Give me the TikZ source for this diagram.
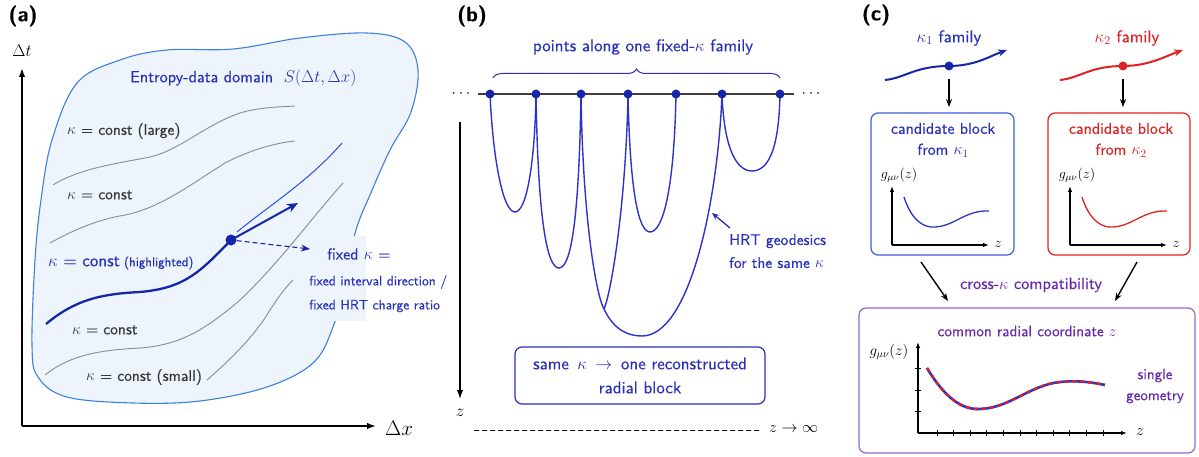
\RequirePackage{fix-cm}
\documentclass[tikz,border=0pt]{standalone}
\usepackage{fontspec}
\setsansfont{lmsans10-regular.otf}[BoldFont=lmsans10-bold.otf, FakeBold=0.35]
\usetikzlibrary{arrows.meta,decorations.pathreplacing}
\definecolor{tblue}{RGB}{40,48,185}
\definecolor{hblue}{RGB}{22,38,170}
\definecolor{gblue}{RGB}{42,52,200}
\definecolor{bline}{RGB}{62,128,218}
\definecolor{bfill}{RGB}{237,244,252}
\definecolor{cblue}{RGB}{64,92,222}
\definecolor{cred}{RGB}{222,34,34}
\definecolor{ptxt}{RGB}{102,40,172}
\definecolor{pline}{RGB}{150,100,210}
\definecolor{gline}{RGB}{140,140,140}
\definecolor{gtxt}{RGB}{55,55,55}
\tikzset{
  fs/.style 2 args={font=\sffamily\fontsize{#1}{#2}\selectfont},
  txt/.style={inner sep=0pt},
  panel/.style={inner sep=0pt, font=\sffamily\bfseries\fontsize{21}{25}\selectfont},
  axis/.style={line width=1.6pt, -{Latex[length=9pt,width=6.5pt]}},
  smallaxis/.style={line width=1.2pt, -{Latex[length=6pt,width=4.5pt]}},
  grayc/.style={gline, line width=0.9pt},
  geo/.style={gblue, line width=1.4pt},
  dotb/.style={circle, fill=hblue, inner sep=0pt, minimum size=#1},
  dotr/.style={circle, fill=cred, inner sep=0pt, minimum size=#1},
  blackarr/.style={line width=1.4pt, -{Stealth[length=8pt,width=6pt]}},
  rbox/.style={draw, rounded corners=7pt, line width=1.2pt, inner sep=0pt},
}
\begin{document}
\begin{tikzpicture}[x=1pt,y=-1pt]
\useasboundingbox (0,0) rectangle (1199,457);
% ---------------- panel (a) ----------------
\node[panel] (pa) at (23,16) {(a)};
\path[fill=bfill, draw=bline, line width=1.1pt] plot[smooth cycle, tension=0.6] coordinates {
 (77,83) (120,60) (167,50) (233,49) (300,38) (367,33) (405,42) (418,70)
 (411,112) (390,150) (370,195) (356,230) (345,280) (333,327) (313,363)
 (267,387) (200,401) (133,403) (67,397) (38,377) (32,345) (35,260)
 (41,200) (52,140)};
\fill[bfill] (332,236) rectangle (366,321);
\coordinate (O) at (22,426);
\coordinate (tTop) at (22,68);
\coordinate (xEnd) at (376,426);
\draw[axis] (O) -- (tTop);
\draw[axis] (O) -- (xEnd);
\node[txt, font=\fontsize{17}{20}\selectfont] (dtl) at (22,51) {$\Delta t$};
\node[txt, font=\fontsize{21}{24}\selectfont] (dxl) at (399,428) {$\Delta x$};
\node[txt, fs={16.2}{20}, tblue, anchor=west] (ttl) at (130,78) {Entropy-data domain\ \ {\fontsize{17}{20}\selectfont$S(\Delta t,\Delta x)$}};
% gray curves
\draw[grayc] (53,185) .. controls (80,168) and (120,163) .. (150,157) .. controls (180,150) and (205,125) .. (240,113) .. controls (260,107) and (280,107) .. (295,106);
\draw[grayc] (50,243) .. controls (70,232) and (95,220) .. (125,215) .. controls (160,208) and (190,185) .. (225,163) .. controls (250,150) and (275,143) .. (295,141);
\draw[grayc] (45,375) .. controls (70,355) and (100,350) .. (140,348) .. controls (180,345) and (205,330) .. (240,300) .. controls (280,262) and (310,220) .. (343,183);
\draw[grayc] (207,380) .. controls (230,360) and (250,340) .. (265,318) .. controls (275,302) and (283,290) .. (293,280);
% text block on the right of the blob
\node[txt, fs={16}{20}, tblue, anchor=west] (f1) at (327,254) {fixed $\kappa$ =};
\node[txt, fs={13.6}{17}, tblue, anchor=west] (f2) at (309,282) {fixed interval direction /};
\node[txt, fs={13.6}{17}, tblue, anchor=west] (f3) at (309,306) {fixed HRT charge ratio};
% highlighted
\node[dotb=11pt] (hd) at (231,240) {};
\draw[bline!60!blue, line width=1pt] (237,232) .. controls (270,205) and (310,180) .. (342,143);
\draw[hblue, line width=2.3pt] (46,324) .. controls (75,300) and (100,294) .. (140,292) .. controls (185,288) and (200,272) .. (hd.center);
\coordinate (hArr) at (298,203);
\coordinate (dArr) at (310,249);
\draw[hblue, line width=2pt, -{Stealth[length=11pt,width=9pt]}] (hd.center) -- (hArr);
\draw[hblue, line width=1.1pt, dash pattern=on 5pt off 3pt, -{Stealth[length=9pt,width=7pt]}] (hd) -- (dArr);
% labels
\node[txt, fs={15.5}{19}, gtxt, anchor=west] (l1) at (67,131) {$\kappa$ = const (large)};
\node[txt, fs={15.5}{19}, gtxt, anchor=west] (l2) at (67,195) {$\kappa$ = const};
\node[txt, fs={17}{20}, tblue, anchor=west] (l3) at (48,263) {$\kappa$ = const{\fontsize{12.9}{15}\selectfont\ (highlighted)}};
\node[txt, fs={15.5}{19}, gtxt, anchor=west] (l4) at (72,330) {$\kappa$ = const};
\node[txt, fs={15.5}{19}, gtxt, anchor=west] (l5) at (86,377) {$\kappa$ = const (small)};
% ---------------- panel (b) ----------------
\node[panel] (pb) at (472,16) {(b)};
\coordinate (hl) at (478,94);
\coordinate (hr) at (794,94);
\draw[line width=1.2pt, black!75] (hl) -- (hr);
\node[txt, font=\fontsize{16}{19}\selectfont] (dl) at (461,94) {$\cdots$};
\node[txt, font=\fontsize{16}{19}\selectfont] (dr) at (811,94) {$\cdots$};
\coordinate (bl) at (493,78);
\coordinate (br) at (780,78);
\draw[tblue, line width=1pt, decorate, decoration={brace, amplitude=9pt}] (bl) -- (br);
\node[txt, fs={17}{20}, tblue] (bt) at (643,47) {points along one fixed-$\kappa$\ family};
% geodesics
\draw[geo] (490,94) .. controls (493,160) and (503,212) .. (515,212) .. controls (527,212) and (535,160) .. (536,94);
\draw[geo] (536,94) .. controls (538,220) and (547,268) .. (559,268) .. controls (571,268) and (579,220) .. (581,94);
\draw[geo] (581,94) .. controls (583,230) and (598,300) .. (604,309);
\draw[geo] (604,309) .. controls (612,290) and (626,200) .. (628,94);
\draw[geo] (604,309) .. controls (614,330) and (628,336) .. (642,336) .. controls (690,336) and (718,200) .. (722,94);
\draw[geo] (628,94) .. controls (630,195) and (639,232) .. (650,232) .. controls (662,232) and (674,195) .. (676,94);
\draw[geo] (722,94) .. controls (724,150) and (737,171) .. (752,171) .. controls (768,171) and (779,150) .. (780,94);
\foreach \x/\n in {490/1,536/2,581/3,628/4,676/5,722/6,780/7}
  \node[dotb=9pt] (p\n) at (\x,94) {};
\coordinate (ha) at (730,228);
\coordinate (hb) at (712,213);
\draw[tblue, line width=1.3pt, -{Stealth[length=7pt,width=6pt]}] (ha) -- (hb);
\node[txt, fs={15.5}{23}, tblue, anchor=north west, align=left] (hrt) at (729,234) {HRT geodesics\\for the same $\kappa$};
\coordinate (zt) at (460,122);
\coordinate (zb) at (460,399);
\draw[axis, line width=1.4pt] (zt) -- (zb);
\node[txt, font=\fontsize{17}{20}\selectfont] (zl) at (460,413) {$z$};
\coordinate (dsl) at (474,430);
\coordinate (dsr) at (761,430);
\draw[line width=1pt, dash pattern=on 5pt off 3pt] (dsl) -- (dsr);
\node[txt, font=\fontsize{16}{19}\selectfont, anchor=west] (zinf) at (769,429) {$z \rightarrow \infty$};
\node[rbox, draw=gblue, minimum width=250pt, minimum height=57pt, fs={17}{24}, tblue, align=center] (blk) at (640,375.5) {same \,$\kappa$\, $\rightarrow$\, one reconstructed\\radial block};
% ---------------- panel (c) ----------------
\node[panel] (pc) at (876,15) {(c)};
\node[txt, fs={17}{20}, tblue] (k1) at (949,38) {$\kappa_1$\ family};
\node[txt, fs={17}{20}, cred] (k2) at (1127,38) {$\kappa_2$\ family};
\node[dotb=9pt] (d1) at (949,66) {};
\node[dotr=9pt] (d2) at (1123,66) {};
\coordinate (c1s) at (885,80);
\coordinate (c1e) at (1007,50);
\coordinate (c2s) at (1060,80);
\coordinate (c2e) at (1183,50);
\draw[hblue, line width=2pt] (c1s) .. controls (905,78) and (915,66) .. (d1.center);
\draw[hblue, line width=2pt, -{Stealth[length=9pt,width=7pt]}] (d1.center) .. controls (975,66) and (990,56) .. (c1e);
\draw[cred, line width=2pt] (c2s) .. controls (1080,78) and (1090,66) .. (d2.center);
\draw[cred, line width=2pt, -{Stealth[length=9pt,width=7pt]}] (d2.center) .. controls (1149,66) and (1166,56) .. (c2e);
\node[rbox, draw=cblue, minimum width=143pt, minimum height=142pt] (bx1) at (942.5,184) {};
\node[rbox, draw=cred, minimum width=142pt, minimum height=142pt] (bx2) at (1119,184) {};
\coordinate (v1s) at (949,79);
\coordinate (v1e) at (949,107);
\coordinate (v2s) at (1123,79);
\coordinate (v2e) at (1123,107);
\draw[blackarr] (v1s) -- (v1e);
\draw[blackarr] (v2s) -- (v2e);
\node[txt, fs={15.9}{21}, tblue, align=center] (bt1) at (943,140) {candidate block\\from $\kappa_1$};
\node[txt, fs={15.9}{21}, cred, align=center] (bt2) at (1121,140) {candidate block\\from $\kappa_2$};
% mini plots
\coordinate (o1) at (892,245);
\coordinate (o1y) at (892,186);
\coordinate (o1x) at (989,245);
\draw[smallaxis] (o1) -- (o1y);
\draw[smallaxis] (o1) -- (o1x);
\node[txt, font=\fontsize{14}{17}\selectfont] (g1) at (899,175) {$g_{\mu\nu}(z)$};
\node[txt, font=\fontsize{14}{17}\selectfont] (z1) at (998,244) {$z$};
\draw[gblue, line width=1.3pt] (904,197) .. controls (912,222) and (925,228) .. (935,227) .. controls (955,226) and (965,210) .. (989,211);
\coordinate (o2) at (1070,245);
\coordinate (o2y) at (1070,186);
\coordinate (o2x) at (1167,245);
\draw[smallaxis] (o2) -- (o2y);
\draw[smallaxis] (o2) -- (o2x);
\node[txt, font=\fontsize{14}{17}\selectfont] (g2) at (1077,175) {$g_{\mu\nu}(z)$};
\node[txt, font=\fontsize{14}{17}\selectfont] (z2) at (1176,244) {$z$};
\draw[cred, line width=1.3pt] (1082,197) .. controls (1090,222) and (1103,228) .. (1113,227) .. controls (1133,226) and (1143,210) .. (1167,211);
% to common box
\node[rbox, draw=pline, minimum width=336pt, minimum height=145pt] (bx3) at (1027,380.5) {};
\coordinate (a1s) at (921,262);
\coordinate (a1e) at (948,301);
\coordinate (a2s) at (1137,262);
\coordinate (a2e) at (1115,301);
\draw[blackarr] (a1s) -- (a1e);
\draw[blackarr] (a2s) -- (a2e);
\node[txt, fs={16.4}{20}, ptxt] (cross) at (1031,285) {cross-$\kappa$\ compatibility};
\node[txt, fs={15.3}{20}, ptxt] (crc) at (1027,331) {common radial coordinate $z$};
\node[txt, font=\fontsize{15}{18}\selectfont] (g3) at (889,352) {$g_{\mu\nu}(z)$};
\coordinate (o3) at (918,433);
\coordinate (o3y) at (918,342);
\coordinate (o3x) at (1127,433);
\draw[smallaxis] (o3) -- (o3y);
\draw[smallaxis] (o3) -- (o3x);
\node[txt, font=\fontsize{16}{19}\selectfont] (z3) at (1140,432) {$z$};
\foreach \k in {0,...,10}
  \draw[line width=0.8pt] ({937+16.6*\k},430) -- ({937+16.6*\k},436);
\foreach \yy in {368,390,411}
  \draw[line width=0.8pt] (915,\yy) -- (921,\yy);
\draw[gblue, line width=2.6pt] (927,368) .. controls (945,398) and (962,410) .. (980,409) .. controls (1010,408) and (1030,385) .. (1060,382) .. controls (1080,380) and (1095,383) .. (1105,385);
\draw[cred, line width=2.6pt, dash pattern=on 4pt off 4pt] (927,368) .. controls (945,398) and (962,410) .. (980,409) .. controls (1010,408) and (1030,385) .. (1060,382) .. controls (1080,380) and (1095,383) .. (1105,385);
\node[txt, fs={15}{21}, ptxt, align=center] (sg) at (1155,386) {single\\geometry};
\end{tikzpicture}
\end{document}
